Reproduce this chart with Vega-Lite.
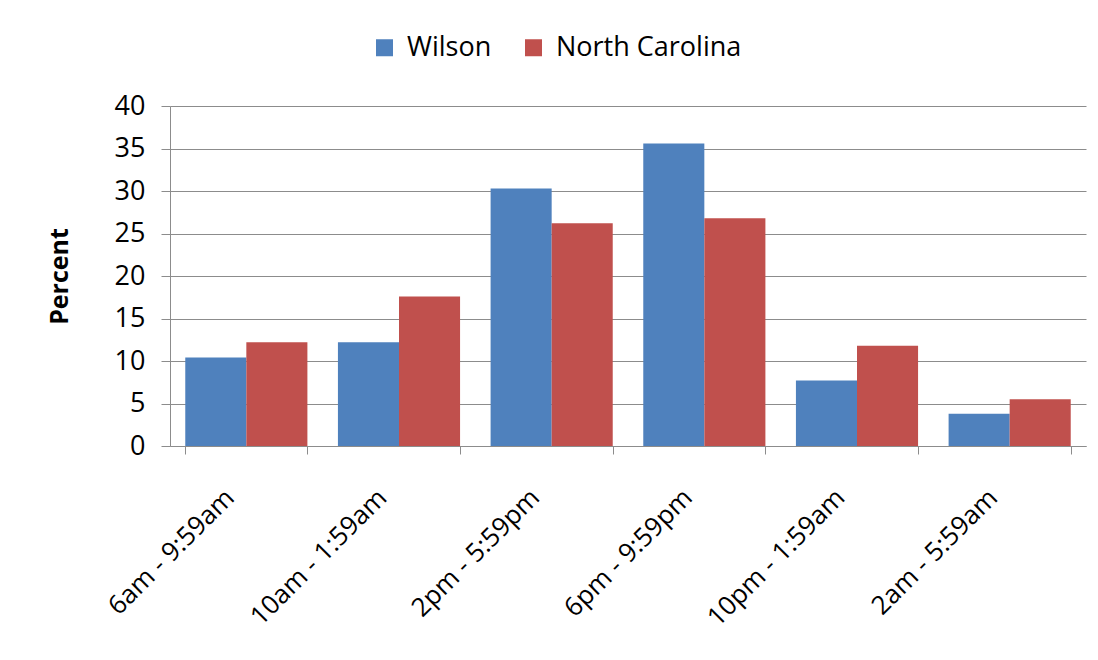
{
  "$schema": "https://vega.github.io/schema/vega-lite/v6.json",
  "autosize": "none",
  "width": 916,
  "height": 340,
  "padding": {"left": 170, "top": 106, "right": 12, "bottom": 214},
  "background": "white",
  "data": {
    "values": [
      {"period": "6am - 9:59am", "area": "Wilson", "percent": 10.4},
      {"period": "6am - 9:59am", "area": "North Carolina", "percent": 12.2},
      {"period": "10am - 1:59am", "area": "Wilson", "percent": 12.2},
      {"period": "10am - 1:59am", "area": "North Carolina", "percent": 17.6},
      {"period": "2pm - 5:59pm", "area": "Wilson", "percent": 30.3},
      {"period": "2pm - 5:59pm", "area": "North Carolina", "percent": 26.2},
      {"period": "6pm - 9:59pm", "area": "Wilson", "percent": 35.6},
      {"period": "6pm - 9:59pm", "area": "North Carolina", "percent": 26.8},
      {"period": "10pm - 1:59am", "area": "Wilson", "percent": 7.7},
      {"period": "10pm - 1:59am", "area": "North Carolina", "percent": 11.8},
      {"period": "2am - 5:59am", "area": "Wilson", "percent": 3.8},
      {"period": "2am - 5:59am", "area": "North Carolina", "percent": 5.5}
    ]
  },
  "mark": {"type": "bar"},
  "encoding": {
    "x": {
      "field": "period",
      "type": "nominal",
      "sort": null,
      "scale": {"paddingInner": 0.2, "paddingOuter": 0.1},
      "axis": {
        "title": null,
        "labelAngle": -45,
        "labelFont": "Open Sans",
        "labelFontSize": 26,
        "labelColor": "#000000",
        "labelPadding": 30,
        "labelOffset": -26,
        "labelLimit": 0,
        "tickBand": "extent",
        "tickSize": 8,
        "tickColor": "#8c8c8c",
        "domainColor": "#8c8c8c",
        "grid": false
      }
    },
    "xOffset": {
      "field": "area",
      "type": "nominal",
      "sort": ["Wilson", "North Carolina"],
      "scale": {"paddingInner": 0, "paddingOuter": 0}
    },
    "y": {
      "field": "percent",
      "type": "quantitative",
      "scale": {"domain": [0, 40]},
      "axis": {
        "title": "Percent",
        "titleFont": "Open Sans",
        "titleFontSize": 25,
        "titleFontWeight": "bold",
        "titleColor": "#000000",
        "titlePadding": 42,
        "values": [0, 5, 10, 15, 20, 25, 30, 35, 40],
        "labelFont": "Open Sans",
        "labelFontSize": 27,
        "labelColor": "#000000",
        "labelPadding": 16,
        "tickSize": 9,
        "tickColor": "#8c8c8c",
        "domainColor": "#8c8c8c",
        "gridColor": "#8c8c8c",
        "gridWidth": 1
      }
    },
    "color": {
      "field": "area",
      "type": "nominal",
      "sort": ["Wilson", "North Carolina"],
      "scale": {"domain": ["Wilson", "North Carolina"], "range": ["#4F81BD", "#C0504D"]},
      "legend": {
        "title": null,
        "orient": "none",
        "direction": "horizontal",
        "legendX": 201,
        "legendY": -72,
        "symbolType": "square",
        "symbolSize": 289,
        "symbolStrokeWidth": 0,
        "labelFont": "Open Sans",
        "labelFontSize": 27,
        "labelColor": "#000000",
        "labelOffset": 9,
        "labelLimit": 0,
        "columnPadding": 28
      }
    }
  },
  "config": {
    "view": {"stroke": null},
    "axis": {"domainWidth": 1, "tickWidth": 1}
  }
}
